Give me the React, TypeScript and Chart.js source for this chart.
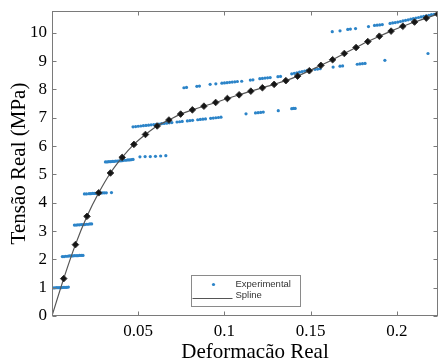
import React, { useEffect, useRef } from 'react';
import { Chart, registerables } from 'chart.js';

Chart.register(...registerables);

// ---- Data ----
const seriesNames = ['Experimental', 'Spline'];
const xTitle = 'Deformação Real';
const yTitle = 'Tensão Real (MPa)';
const xTickValues = [0.05, 0.1, 0.15, 0.2];
const yTickValues = [0, 1, 2, 3, 4, 5, 6, 7, 8, 9, 10];

const splineX = [
  0, 0.0068, 0.0136, 0.0203, 0.0271, 0.0339, 0.0407, 0.0475, 0.0542, 0.061,
  0.0678, 0.0746, 0.0814, 0.0881, 0.0949, 0.1017, 0.1085, 0.1153, 0.122, 0.1288,
  0.1356, 0.1424, 0.1492, 0.1559, 0.1627, 0.1695, 0.1763, 0.1831, 0.1898, 0.1966,
  0.2034, 0.2102, 0.217, 0.2237,
];
const splineY = [
  0, 1.32, 2.52, 3.52, 4.35, 5.05, 5.6, 6.06, 6.41, 6.71,
  6.92, 7.13, 7.28, 7.41, 7.54, 7.68, 7.81, 7.94, 8.06, 8.18,
  8.31, 8.47, 8.66, 8.85, 9.05, 9.27, 9.48, 9.69, 9.88, 10.06,
  10.23, 10.38, 10.52, 10.66,
];

const expX = [
  // ~1.0
  0.0005, 0.0015, 0.0025, 0.0035, 0.0045, 0.0055, 0.0065, 0.0075, 0.0085, 0.0095,
  // ~2.1
  0.006, 0.007, 0.008, 0.009, 0.01, 0.011, 0.012, 0.013, 0.014, 0.015, 0.016, 0.017, 0.018,
  // ~3.2
  0.013, 0.014, 0.015, 0.016, 0.017, 0.018, 0.019, 0.02, 0.021, 0.022, 0.023,
  // ~4.3
  0.0188, 0.02, 0.0215, 0.0225, 0.0235, 0.0245, 0.0255, 0.0265, 0.0275, 0.0285, 0.0295, 0.0305, 0.0315, 0.0345,
  // ~5.5
  0.031, 0.032, 0.033, 0.034, 0.035, 0.036, 0.037, 0.038, 0.039, 0.04, 0.041, 0.042, 0.043, 0.044, 0.045, 0.046, 0.047,
  0.051, 0.054, 0.057, 0.06, 0.063, 0.066,
  // ~6.7 - 7.3
  0.047, 0.0485, 0.05, 0.0515, 0.053, 0.0545, 0.056, 0.0575, 0.059, 0.0605, 0.062, 0.0635, 0.065, 0.0665,
  0.068, 0.0695, 0.0725, 0.074, 0.0755, 0.0785, 0.08, 0.0815, 0.0845, 0.086, 0.0875, 0.089,
  0.092, 0.0935, 0.095, 0.0965, 0.098,
  0.1125, 0.118, 0.1195, 0.121, 0.1225, 0.1312, 0.139, 0.14, 0.141,
  // ~8.05 - 9.05
  0.0765, 0.078, 0.084, 0.0855, 0.0917, 0.095,
  0.0985, 0.1, 0.1015, 0.103, 0.1045, 0.106, 0.1075, 0.11,
  0.115, 0.1165, 0.1205, 0.122, 0.1235, 0.125, 0.1265, 0.131, 0.1325,
  0.139, 0.1405, 0.142, 0.1435, 0.145, 0.1465, 0.148, 0.1495,
  0.1525, 0.154, 0.1555, 0.163, 0.167, 0.1685, 0.177, 0.1785, 0.18, 0.1815, 0.193,
  // ~10.0 - 10.65
  0.1625, 0.167, 0.1715, 0.173, 0.176, 0.1835, 0.187, 0.1885, 0.19, 0.1915,
  0.196, 0.1975, 0.199, 0.2005, 0.202, 0.2035, 0.205, 0.2065, 0.208, 0.2095,
  0.211, 0.2125, 0.214, 0.2155, 0.217, 0.2185, 0.22, 0.2215,
  // isolated
  0.218,
];
const expY = [
  0.99, 0.99, 1.0, 1.0, 1.0, 1.0, 1.01, 1.01, 1.01, 1.02,
  2.1, 2.1, 2.11, 2.11, 2.12, 2.12, 2.12, 2.13, 2.13, 2.13, 2.14, 2.14, 2.14,
  3.21, 3.21, 3.22, 3.22, 3.23, 3.23, 3.23, 3.24, 3.24, 3.25, 3.25,
  4.31, 4.31, 4.32, 4.32, 4.33, 4.33, 4.33, 4.34, 4.34, 4.34, 4.35, 4.35, 4.35, 4.36,
  5.44, 5.44, 5.45, 5.45, 5.46, 5.46, 5.47, 5.47, 5.48, 5.48, 5.49, 5.5, 5.5, 5.51, 5.51, 5.52, 5.53,
  5.62, 5.63, 5.63, 5.64, 5.65, 5.66,
  6.68, 6.69, 6.7, 6.71, 6.72, 6.73, 6.74, 6.75, 6.76, 6.77, 6.78, 6.79, 6.8, 6.81,
  6.82, 6.83, 6.85, 6.86, 6.87, 6.89, 6.9, 6.91, 6.93, 6.94, 6.95, 6.96,
  6.98, 6.99, 7.0, 7.01, 7.02,
  7.14, 7.17, 7.18, 7.19, 7.2, 7.25, 7.32, 7.33, 7.33,
  8.06, 8.07, 8.11, 8.12, 8.18, 8.2,
  8.22, 8.23, 8.24, 8.25, 8.26, 8.27, 8.28, 8.29,
  8.33, 8.34, 8.38, 8.39, 8.4, 8.41, 8.42, 8.45, 8.46,
  8.55, 8.57, 8.59, 8.61, 8.63, 8.65, 8.67, 8.68,
  8.71, 8.72, 8.73, 8.79, 8.82, 8.83, 8.89, 8.9, 8.91, 8.92, 9.03,
  10.04, 10.07, 10.12, 10.13, 10.15, 10.22, 10.26, 10.27, 10.28, 10.29,
  10.33, 10.35, 10.36, 10.38, 10.4, 10.42, 10.44, 10.46, 10.48, 10.5,
  10.52, 10.54, 10.56, 10.58, 10.6, 10.62, 10.64, 10.65,
  9.27,
];

const X_MIN = 0;
const X_MAX = 0.2238;
const Y_MIN = 0;
const Y_MAX = 10.77;

// ---- Styles ----
const SERIF = "'Liberation Serif', 'Times New Roman', serif";
const SANS = "'Liberation Sans', Arial, sans-serif";
const EXP_COLOR = '#2c84c8';
const SPLINE_COLOR = '#555555';
const MARKER_COLOR = '#151515';
const BOX_COLOR = '#7a7a7a';

const boxPlugin = {
  id: 'matlabBox',
  afterDraw(chart: any) {
    const { ctx, chartArea: a, scales } = chart;
    const L = Math.round(a.left) + 0.5;
    const R = Math.round(a.right) - 0.5;
    const T = Math.round(a.top) + 0.5;
    const B = Math.round(a.bottom) - 0.5;
    ctx.save();
    ctx.strokeStyle = BOX_COLOR;
    ctx.lineWidth = 1;
    ctx.strokeRect(L, T, R - L, B - T);
    ctx.beginPath();
    scales.x.ticks.forEach((t: any) => {
      const px = Math.round(scales.x.getPixelForValue(t.value)) + 0.5;
      ctx.moveTo(px, B);
      ctx.lineTo(px, B - 4);
      ctx.moveTo(px, T);
      ctx.lineTo(px, T + 4);
    });
    scales.y.ticks.forEach((t: any) => {
      const py = Math.round(scales.y.getPixelForValue(t.value)) + 0.5;
      ctx.moveTo(L, py);
      ctx.lineTo(L + 4, py);
      ctx.moveTo(R, py);
      ctx.lineTo(R - 4, py);
    });
    ctx.stroke();

    // x-axis title (slightly right of centre, as in the reference)
    ctx.fillStyle = '#000';
    ctx.font = `21px ${SERIF}`;
    ctx.textAlign = 'center';
    ctx.textBaseline = 'middle';
    ctx.fillText(xTitle, (a.left + a.right) / 2 + 10, chart.height - 5.5);

    // legend box
    const lx = Math.round(a.left + 139) + 0.5;
    const ly = Math.round(a.bottom - 41) + 0.5;
    const w = 109;
    const h = 31;
    ctx.fillStyle = '#ffffff';
    ctx.fillRect(lx, ly, w, h);
    ctx.strokeStyle = '#8a8a8a';
    ctx.strokeRect(lx, ly, w, h);
    const ds = chart.data.datasets;
    const expDs = ds.find((d: any) => d.label === seriesNames[0]);
    const splDs = ds.find((d: any) => d.label === seriesNames[1]);
    ctx.fillStyle = expDs.backgroundColor;
    ctx.beginPath();
    ctx.arc(lx + 22, ly + 9, 1.6, 0, Math.PI * 2);
    ctx.fill();
    ctx.strokeStyle = splDs.borderColor;
    ctx.lineWidth = 1;
    ctx.beginPath();
    ctx.moveTo(lx + 1, ly + 23);
    ctx.lineTo(lx + 41, ly + 23);
    ctx.stroke();
    ctx.fillStyle = '#333333';
    ctx.font = `9.5px ${SANS}`;
    ctx.textAlign = 'left';
    ctx.textBaseline = 'middle';
    ctx.fillText(expDs.label, lx + 44, ly + 8.5);
    ctx.fillText(splDs.label, lx + 44, ly + 20);
    ctx.restore();
  },
};

export default function App() {
  const canvasRef = useRef<HTMLCanvasElement | null>(null);

  useEffect(() => {
    if (!canvasRef.current) return;
    const splinePts = splineX.map((x, i) => ({ x, y: splineY[i] }));
    const expPts = expX.map((x, i) => ({ x, y: expY[i] }));
    const chart = new Chart(canvasRef.current, {
      type: 'scatter',
      data: {
        datasets: [
          {
            label: seriesNames[1],
            data: splinePts,
            showLine: true,
            borderColor: SPLINE_COLOR,
            borderWidth: 1.2,
            cubicInterpolationMode: 'monotone',
            pointStyle: 'rectRot',
            pointRadius: splinePts.map((_, i) => (i === 0 ? 0 : 3.3)),
            pointBackgroundColor: MARKER_COLOR,
            pointBorderColor: '#333333',
            pointBorderWidth: 1,
            order: 0,
          },
          {
            label: seriesNames[0],
            data: expPts,
            showLine: false,
            backgroundColor: EXP_COLOR,
            borderColor: EXP_COLOR,
            pointRadius: 1.6,
            pointBorderWidth: 0,
            pointBackgroundColor: EXP_COLOR,
            order: 1,
          },
        ],
      },
      options: {
        responsive: false,
        animation: false,
        events: [],
        layout: { autoPadding: false, padding: { left: 13, top: 11, right: 0, bottom: 11 } },
        plugins: {
          legend: { display: false },
          tooltip: { enabled: false },
        },
        scales: {
          x: {
            type: 'linear',
            min: X_MIN,
            max: X_MAX,
            afterBuildTicks: (scale: any) => {
              scale.ticks = xTickValues.map((v) => ({ value: v }));
            },
            ticks: {
              color: '#000',
              font: { family: SERIF, size: 17, lineHeight: 1 },
              padding: 7,
              maxRotation: 0,
              callback: (v: any) => String(v),
            },
            grid: { display: false, drawTicks: false },
            border: { display: false },
            title: { display: false },
          },
          y: {
            type: 'linear',
            min: Y_MIN,
            max: Y_MAX,
            afterBuildTicks: (scale: any) => {
              scale.ticks = yTickValues.map((v) => ({ value: v }));
            },
            ticks: {
              color: '#000',
              font: { family: SERIF, size: 17, lineHeight: 0.6 },
              padding: 5,
              callback: (v: any) => String(v),
            },
            grid: { display: false, drawTicks: false },
            border: { display: false },
            title: {
              display: true,
              text: yTitle,
              color: '#000',
              font: { family: SERIF, size: 21, lineHeight: 0.57 },
              padding: { top: 0, bottom: 0 },
            },
          },
        },
      },
      plugins: [boxPlugin],
    } as any);
    return () => chart.destroy();
  }, []);

  return (
    <div style={{ position: 'fixed', left: 0, top: 0, width: 438, height: 358, background: '#fff' }}>
      <canvas ref={canvasRef} width={438} height={358} style={{ display: 'block' }} />
    </div>
  );
}
